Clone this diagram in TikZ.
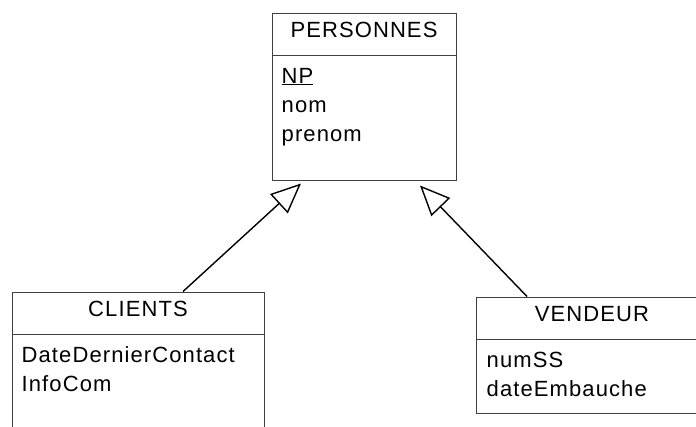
\documentclass[tikz,border=0pt]{standalone}
\usepackage{fontspec}
\setmainfont{Liberation Sans}[LetterSpace=5]
\usetikzlibrary{arrows.meta}
\usetikzlibrary{positioning}

\tikzset{
  classbox/.style={draw=black!75, line width=1pt},
  classhead/.style={draw=black!75, line width=1pt, minimum height=42pt,
    text height=15.8pt, text depth=9pt, anchor=north},
  attr/.style={inner sep=0pt},
  inherits/.style={draw, line width=1.4pt, -{Triangle[open, length=30pt, width=26pt]}},
}

\begin{document}
\begin{tikzpicture}[x=1pt, y=-1pt, font=\fontsize{22}{26}\selectfont]
    \useasboundingbox (0,0) rectangle (696,426);

    % PERSONNES
    \node (personnes) [classbox, minimum width=184pt, minimum height=167pt] at (364,96.5) {};
    \node (personnes-head) [classhead, minimum width=184pt] at (personnes.north) {PERSONNES};
    \node (np) [attr, below right=27.5pt and 10pt of personnes-head.south west, anchor=base west] {\underline{NP}};
    \node (nom) [attr, below=29pt of np.base west, anchor=base west] {nom};
    \node (prenom) [attr, below=29pt of nom.base west, anchor=base west] {prenom};

    % CLIENTS
    \node (clients) [classbox, minimum width=252pt, minimum height=148pt] at (138,366) {};
    \node (clients-head) [classhead, minimum width=252pt] at (clients.north) {CLIENTS};
    \node (datecontact) [attr, below right=27.5pt and 10pt of clients-head.south west, anchor=base west] {DateDernierContact};
    \node (infocom) [attr, below=29pt of datecontact.base west, anchor=base west] {InfoCom};

    % VENDEUR
    \node (vendeur) [classbox, minimum width=232pt, minimum height=116pt] at (592,355) {};
    \node (vendeur-head) [classhead, minimum width=232pt] at (vendeur.north) {VENDEUR};
    \node (numss) [attr, below right=27.5pt and 11pt of vendeur-head.south west, anchor=base west] {numSS};
    \node (embauche) [attr, below=29pt of numss.base west, anchor=base west] {dateEmbauche};

    % heritage
    \draw [inherits] ([xshift=45pt]clients.north) -- ([xshift=-63pt,yshift=-3pt]personnes.south);
    \draw [inherits] ([xshift=-65pt]vendeur.north) -- ([xshift=56pt,yshift=-5pt]personnes.south);
\end{tikzpicture}
\end{document}
